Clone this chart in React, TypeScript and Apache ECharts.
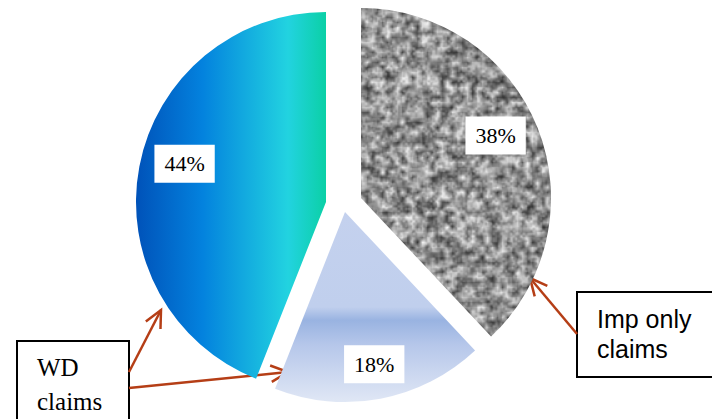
import React, { useEffect, useRef } from 'react';
import * as echarts from 'echarts';

const categories = ['Imp only claims', 'WD and Imp claims', 'WD only claims'];
const values = [38, 18, 44];
const calloutWD = 'WD\nclaims';
const calloutImp = 'Imp only\nclaims';

function hash(x: number, y: number): number {
  const s = Math.sin(x * 12.9898 + y * 78.233) * 43758.5453;
  return s - Math.floor(s);
}

const TILE = 640;

function makeNoiseCanvas(): HTMLCanvasElement {
  const out = document.createElement('canvas');
  out.width = TILE;
  out.height = TILE;
  const ctx = out.getContext('2d')!;
  ctx.fillStyle = '#a8a8a8';
  ctx.fillRect(0, 0, TILE, TILE);
  const layer = (base: number, seedOff: number, alpha: number, lo: number, span: number) => {
    const c = document.createElement('canvas');
    c.width = base;
    c.height = base;
    const cx = c.getContext('2d')!;
    const img = cx.createImageData(base, base);
    for (let y = 0; y < base; y++) {
      for (let x = 0; x < base; x++) {
        const h = hash(x + seedOff, y + seedOff * 1.7);
        const v = Math.round(lo + span * h);
        const k = (y * base + x) * 4;
        img.data[k] = v;
        img.data[k + 1] = v;
        img.data[k + 2] = v;
        img.data[k + 3] = 255;
      }
    }
    cx.putImageData(img, 0, 0);
    ctx.globalAlpha = alpha;
    ctx.imageSmoothingEnabled = true;
    ctx.drawImage(c, 0, 0, TILE, TILE);
  };
  layer(128, 3.1, 1, 30, 225);
  layer(256, 17.3, 0.35, 60, 190);
  ctx.globalAlpha = 1;
  return out;
}

export default function App() {
  const ref = useRef<HTMLDivElement>(null);
  useEffect(() => {
    if (!ref.current) return;
    const chart = echarts.init(ref.current, null, { renderer: 'svg' });
    const noise = makeNoiseCanvas();
    const grayFill: any = {
      image: noise,
      repeat: 'repeat',
      imageWidth: TILE,
      imageHeight: TILE,
    };
    const lightFill: any = {
      type: 'linear', x: 0, y: 0, x2: 0, y2: 1,
      colorStops: [
        { offset: 0, color: '#c4d1ee' },
        { offset: 0.5, color: '#c0cfed' },
        { offset: 0.57, color: '#99b3e1' },
        { offset: 0.7, color: '#b6c7ea' },
        { offset: 1, color: '#e0e7f5' },
      ],
    };
    const blueFill: any = {
      type: 'linear', x: 0, y: 0, x2: 1, y2: 0,
      colorStops: [
        { offset: 0, color: '#0052b9' },
        { offset: 0.35, color: '#0382de' },
        { offset: 0.8, color: '#22d3e0' },
        { offset: 1, color: '#0bd0a6' },
      ],
    };
    const fills = [grayFill, lightFill, blueFill];
    const R = 190;
    const centers = [[361, 198], [345, 212], [326, 202]];
    const labelInner = [100, 116, 96];
    const labelShift = [[-3, -8], [0, -1], [2, -11]];

    const series: any[] = [];
    values.forEach((_, i) => {
      series.push({
        type: 'pie',
        center: centers[i],
        radius: [0, R],
        startAngle: 90,
        clockwise: true,
        silent: true,
        avoidLabelOverlap: false,
        label: { show: false },
        labelLine: { show: false },
        emphasis: { disabled: true },
        data: categories.map((name, j) => ({
          name,
          value: values[j],
          itemStyle: { color: j === i ? fills[i] : 'rgba(0,0,0,0)', borderWidth: 0 },
        })),
      });
      series.push({
        type: 'pie',
        center: centers[i],
        radius: [labelInner[i], R],
        startAngle: 90,
        clockwise: true,
        silent: true,
        avoidLabelOverlap: false,
        itemStyle: { color: 'rgba(0,0,0,0)', borderWidth: 0 },
        label: { show: false },
        labelLine: { show: false },
        labelLayout: { dx: labelShift[i][0], dy: labelShift[i][1] },
        emphasis: { disabled: true },
        data: categories.map((name, j) => ({
          name,
          value: values[j],
          label: j === i
            ? {
                show: true,
                position: 'inside',
                formatter: (p: any) => Math.round(p.percent) + '%',
                color: '#000',
                fontFamily: 'Liberation Serif',
                fontSize: 22,
                lineHeight: 22,
                backgroundColor: '#ffffff',
                padding: [8, 10],
              }
            : { show: false },
        })),
      });
    });

    const stroke = '#b53e16';
    const arrow = (x1: number, y1: number, x2: number, y2: number) => {
      const ang = Math.atan2(y2 - y1, x2 - x1);
      const L = 19;
      const a = Math.PI / 7;
      const p1 = [x2 - L * Math.cos(ang - a), y2 - L * Math.sin(ang - a)];
      const p2 = [x2 - L * Math.cos(ang + a), y2 - L * Math.sin(ang + a)];
      return [
        { type: 'line', shape: { x1, y1, x2, y2 }, style: { stroke, lineWidth: 2.5 }, silent: true },
        {
          type: 'polyline',
          shape: { points: [p1, [x2, y2], p2] },
          style: { stroke, lineWidth: 2.5, fill: null },
          silent: true,
        },
      ];
    };

    const graphic: any[] = [
      {
        type: 'rect',
        shape: { x: 17, y: 341, width: 112, height: 100 },
        style: { fill: '#fff', stroke: '#000', lineWidth: 2 },
        silent: true,
      },
      {
        type: 'text',
        x: 37,
        y: 350,
        style: {
          text: calloutWD,
          fontFamily: 'Liberation Serif',
          fontSize: 25,
          lineHeight: 34,
          fill: '#000',
          verticalAlign: 'top',
        },
        silent: true,
      },
      {
        type: 'rect',
        shape: { x: 577, y: 292, width: 140, height: 85 },
        style: { fill: '#fff', stroke: '#000', lineWidth: 2 },
        silent: true,
      },
      {
        type: 'text',
        x: 597,
        y: 304,
        style: {
          text: calloutImp,
          fontFamily: 'Liberation Sans',
          fontSize: 25,
          lineHeight: 30,
          fill: '#000',
          verticalAlign: 'top',
        },
        silent: true,
      },
      ...arrow(129, 372, 161, 310),
      ...arrow(129, 388, 288, 372),
      ...arrow(577, 334, 530, 278),
    ];

    chart.setOption({
      animation: false,
      backgroundColor: '#ffffff',
      series,
      graphic,
    });
    return () => chart.dispose();
  }, []);
  return (
    <div
      ref={ref}
      style={{ position: 'fixed', left: 0, top: 0, width: 712, height: 419 }}
    />
  );
}
